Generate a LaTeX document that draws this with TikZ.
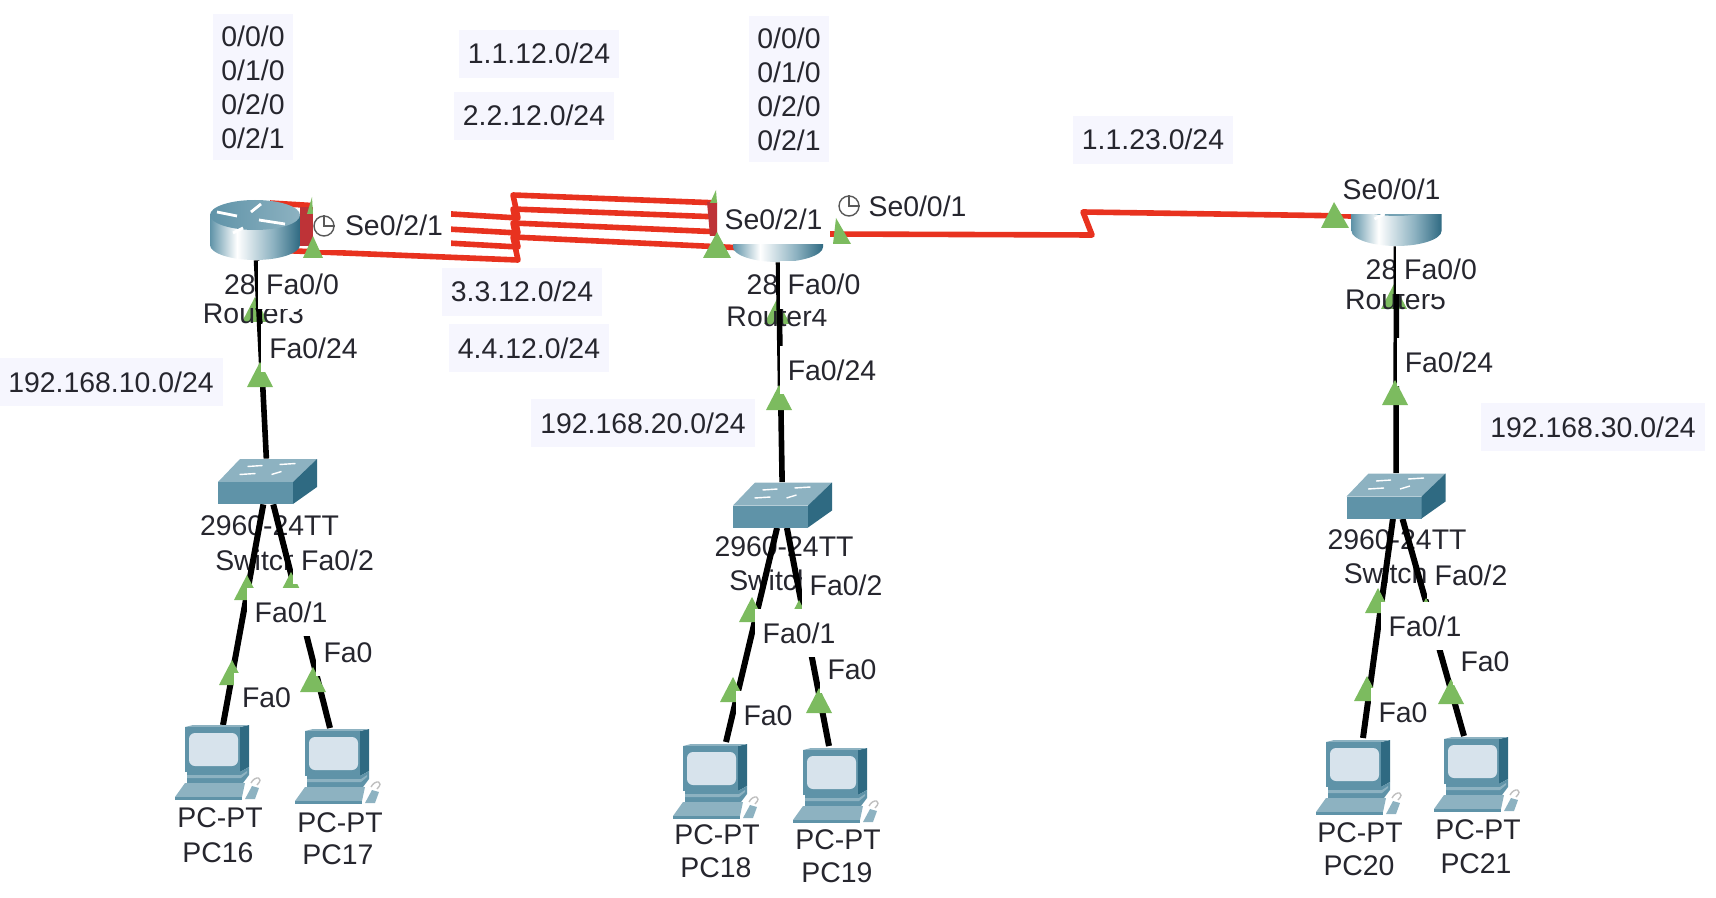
\documentclass[tikz,border=0pt]{standalone}
\usepackage{fontspec}
\setmainfont{Liberation Sans}
\definecolor{linkred}{HTML}{E8321F}
\definecolor{darkred}{HTML}{BE3337}
\definecolor{portgreen}{HTML}{7CBB5F}
\definecolor{netbg}{HTML}{F6F6FE}
\definecolor{txt}{HTML}{26262E}
\definecolor{devdark}{HTML}{2F6A82}
\definecolor{devmid}{HTML}{5F93A8}
\definecolor{devlight}{HTML}{8DB2C1}
\definecolor{devscreen}{HTML}{D7E3EC}
\pgfdeclarehorizontalshading{routerside}{100bp}{color(0bp)=(devmid); color(25bp)=(devmid); color(40bp)=(white); color(60bp)=(devlight); color(75bp)=(devdark); color(100bp)=(devdark)}
\tikzset{
devnode/.style={inner sep=0pt,minimum width=#1},
lbl/.style={font=\fontsize{14.2}{17}\selectfont,text=txt,inner sep=0pt,text height=10pt,text depth=0pt},
portlbl/.style={lbl,fill=white,inner xsep=4pt,inner ysep=7pt},
netlbl/.style={lbl,fill=netbg,inner xsep=4.5pt,inner ysep=7pt},
stacklbl/.style={font=\fontsize{14.2}{17}\selectfont,text=txt,fill=netbg,align=center,inner xsep=4pt,inner ysep=6pt},
seriallink/.style={linkred,line width=2.8pt,line join=round},
lanlink/.style={black,line width=2.8pt},
clocksym/.style={circle,draw=black!65,fill=white,line width=0.7pt,minimum size=10pt,inner sep=0pt},
routerpic/.pic={
\shade[shading=routerside] (-45,-15)--(-45,15) .. controls (-45,23) and (-25,30) .. (0,30) .. controls (25,30) and (45,23) .. (45,15)--(45,-15)--cycle;
\shade[left color=devmid,right color=devlight] (0,-15) ellipse [x radius=45,y radius=15];
\foreach \a/\b/\c/\d in {-38/-18/-18/-14, 4/-10/30/-6, -12/-2/-22/3, 6/-26/-4/-18}
\draw[white,line width=1.4pt] (\a,\b)--(\c,\d);
},
switchpic/.pic={
\fill[devlight] (-49.5,0.5)--(25.5,0.5)--(49.5,-22.5)--(-27.5,-22.5)--cycle;
\fill[devmid] (-49.5,0.5) rectangle (25.5,22.5);
\fill[devdark] (25.5,0.5)--(49.5,-22.5)--(49.5,5.5)--(25.5,22.5)--cycle;
\foreach \a/\b/\c/\d in {-20/-15/-5/-16, 12/-17/28/-18, -28/-7/-12/-8, 4/-7/14/-10}
\draw[white,line width=0.7pt] (\a,\b)--(\c,\d);
},
pcpic/.pic={
\fill[devdark] (55,2)--(64,0)--(64,42)--(55,47)--cycle;
\fill[devlight] (0,2)--(8,0)--(64,0)--(55,2)--cycle;
\fill[devmid] (0,2) rectangle (55,47);
\fill[devscreen,rounded corners=3pt] (4,8) rectangle (53,41);
\fill[devmid] (2,47)--(55,47)--(64,42)--(64,50)--(58,58)--(2,58)--cycle;
\fill[devlight] (2,50)--(56,50)--(62,46)--(62,48)--(56,53)--(2,53)--cycle;
\fill[devlight] (-10,72)--(0,58)--(60,58)--(57,72)--cycle;
\fill[devmid] (-10,72) rectangle (57,75);
\fill[devlight] (60,74)--(67,61)--(74,63)--(70,74)--cycle;
\draw[black!25,line width=0.7pt] (66,58) .. controls (70,50) and (80,52) .. (72,60);
}
}
\newcommand{\porttri}[3][portgreen]{\fill[#1] (#2,#3)--++(13,25)--++(-26,0)--cycle;}
\begin{document}
\begin{tikzpicture}[x=0.5pt,y=-0.5pt]
\useasboundingbox (0,0) rectangle (1716,898);
\node[devnode=45pt,minimum height=30pt] (r3) at (255,230) {};
\node[devnode=45pt,minimum height=30pt] (r4) at (778,232) {};
\node[devnode=45pt,minimum height=30pt] (r5) at (1396.5,216) {};
\node[devnode=49.5pt,minimum height=22.5pt] (s3) at (267.5,481.5) {};
\node[devnode=49.5pt,minimum height=22.5pt] (s4) at (782.5,505) {};
\node[devnode=49.5pt,minimum height=22.5pt] (s5) at (1396,496) {};
\foreach \n/\x/\y in {pc16/223/725,pc17/330/728,pc18/726/742,pc19/829/746,pc20/1363/738,pc21/1464/736}
\coordinate (\n) at (\x,\y);
\porttri{255}{297}
\porttri{777}{299}
\porttri{1394}{284}
\foreach \x/\y/\t in {240/285/28,762.5/285/28,1381.5/270/28,253.5/313/Router3,777/317/Router4,1395.5/300/Router5,
269.5/525/2960-24TT,784/546/2960-24TT,1397/539/2960-24TT,265/560/Switch3,779/580/Switch4,1393.5/573/Switch5,
220/817/PC-PT,218/852/PC16,340/822/PC-PT,338/854/PC17,717/834/PC-PT,716/867/PC18,838/839/PC-PT,837/872/PC19,
1360/832/PC-PT,1359/865/PC20,1478/829/PC-PT,1476/863/PC21}
\node[lbl] at (\x,\y) {\t};
\foreach \n/\ya/\yb/\yc/\yd in {1/203/218/195/204,2/219/233/209/218,3/233/247/223/233,4/250/260/237/248}{
\coordinate (sa\n) at (270,\ya);
\coordinate (sb\n) at (518,\yb);
\coordinate (sc\n) at (513,\yc);
\coordinate (sd\n) at (745,\yd);
\draw[seriallink] (sa\n)--(sb\n)--(sc\n)--(sd\n);
}
\coordinate (se4) at (830,234);
\coordinate (zl4) at (1092,235);
\coordinate (zr4) at (1083,212);
\draw[seriallink] (se4)--(zl4)--(zr4)--(r5.west);
\draw[lanlink] (r3)--(s3);
\draw[lanlink] (r4)--(s4);
\draw[lanlink] (r5)--(s5);
\foreach \s/\a/\b in {s3/pc16/pc17,s4/pc18/pc19,s5/pc20/pc21}{
\draw[lanlink,line width=3pt] (\s)--(\a);
\draw[lanlink,line width=3pt] (\s)--(\b);
}
\pic at (r3) {routerpic};
\pic at (r4) {routerpic};
\pic at (r5) {routerpic};
\pic at (s3) {switchpic};
\pic at (s4) {switchpic};
\pic at (s5) {switchpic};
\pic at (185,725) {pcpic};
\pic at (305,729) {pcpic};
\pic at (683,744) {pcpic};
\pic at (803,748) {pcpic};
\pic at (1326,740) {pcpic};
\pic at (1444,737) {pcpic};
\foreach \x/\y in {260/362,779/385,1395/380,247/575,291/572,232/660,313/667,752/597,799/600,733/677,819/688,1378/588,1426/598,1367/676,1451/679}
\porttri{\x}{\y}
\foreach \x/\y/\t in {302.5/285/{Fa0/0},313.5/348/{Fa0/24},824/285/{Fa0/0},832/370/{Fa0/24},1440.5/270/{Fa0/0},1449/362/{Fa0/24},
337.5/560/{Fa0/2},846/585/{Fa0/2},1471/575/{Fa0/2},291/612/{Fa0/1},799/633/{Fa0/1},1425/626/{Fa0/1},
348/652/Fa0,266.5/697/Fa0,852/669/Fa0,768/715/Fa0,1485/661/Fa0,1403/712/Fa0,773.5/220/{Se0/2/1},1391.5/190/{Se0/0/1}}
\node[portlbl] at (\x,\y) {\t};
\node[portlbl] (se3) at (381.5,226) {\hspace*{12.5pt}Se0/2/1};
\node[portlbl] (se4lbl) at (904.5,207) {\hspace*{13pt}Se0/0/1};
\foreach \n/\x/\y in {clk3/324/226,clk4/849/206}{
\node[clocksym] (\n) at (\x,\y) {};
\draw[black!65,line width=0.7pt] (\n.north)--(\n.center)--(\n.east);
}
\fill[darkred] (300,207)--(313,207)--(313,246)--(300,246)--cycle;
\fill[portgreen] (312,197)--(313,214)--(307,214)--cycle;
\fill[portgreen] (313,236)--(323,258)--(303,258)--cycle;
\fill[darkred] (707,202)--(717,202)--(717,236)--(710,236)--cycle;
\fill[portgreen] (716,190)--(717,203)--(710,203)--cycle;
\fill[portgreen] (717,232)--(731,258)--(703,258)--cycle;
\fill[portgreen] (836,218)--(851,244)--(833,244)--cycle;
\fill[portgreen] (1334,202)--(1349,228)--(1321,228)--cycle;
\node[netlbl] at (539,54) {1.1.12.0/24};
\node[netlbl] at (534,116) {2.2.12.0/24};
\node[netlbl] at (522,292) {3.3.12.0/24};
\node[netlbl] at (529,348) {4.4.12.0/24};
\node[netlbl] at (1153,140) {1.1.23.0/24};
\node[netlbl] at (111,382) {192.168.10.0/24};
\node[netlbl] at (643,423) {192.168.20.0/24};
\node[netlbl] at (1593,427) {192.168.30.0/24};
\node[stacklbl] at (253,87) {0/0/0\\0/1/0\\0/2/0\\0/2/1};
\node[stacklbl] at (789,89) {0/0/0\\0/1/0\\0/2/0\\0/2/1};
\end{tikzpicture}
\end{document}
